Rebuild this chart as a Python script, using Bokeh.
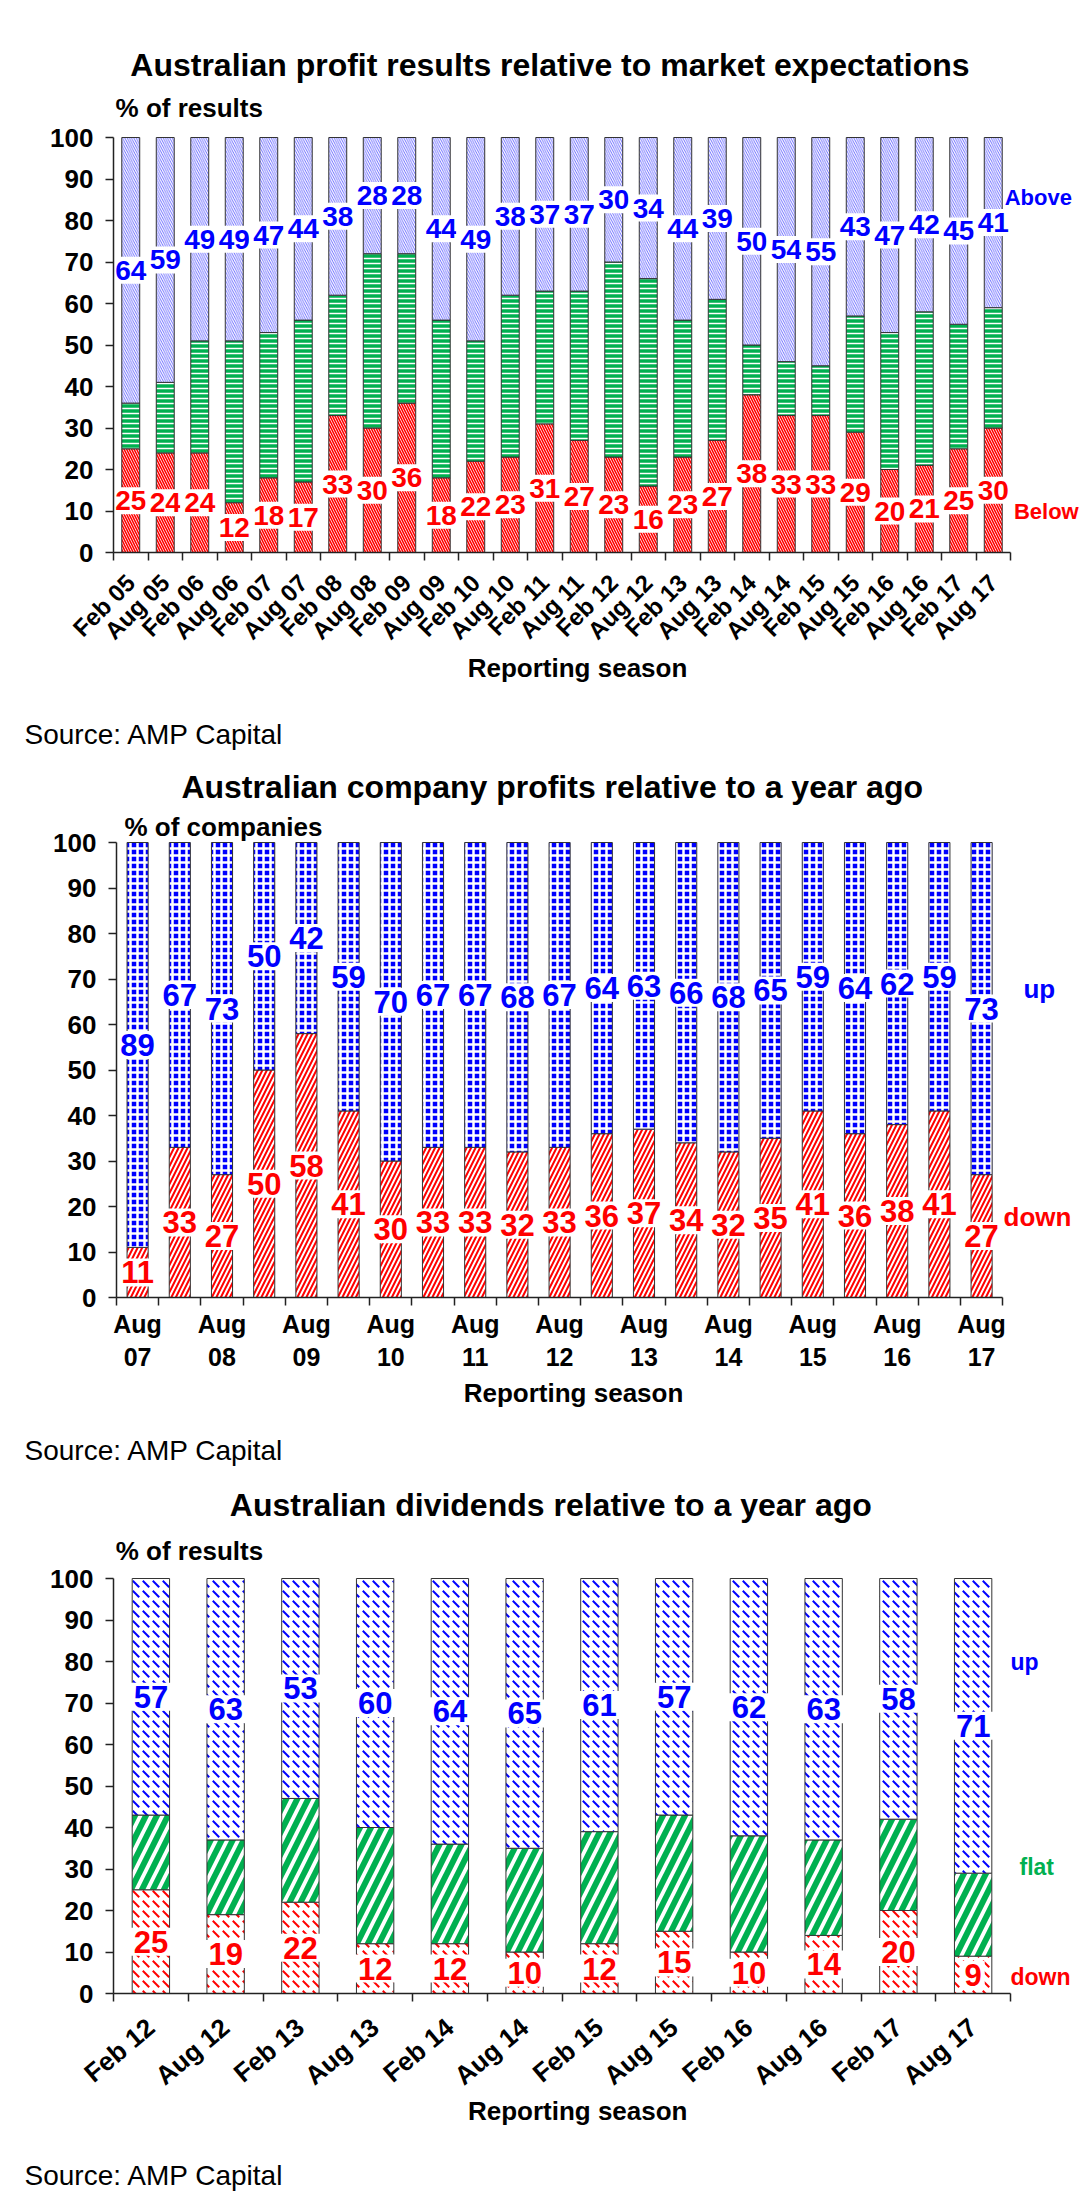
from bokeh.plotting import figure
from bokeh.models import (ColumnDataSource, Range1d, LinearAxis,
                          FixedTicker, Label)
from bokeh.layouts import column
from bokeh.core.properties import value
from bokeh.embed import file_html
from bokeh.resources import INLINE

FONT = "Liberation Sans"
BLUE = "#0000ff"
RED = "#ff0000"
GREEN = "#00b050"
AX = "#222222"

# ---------------- Chart 1 data: results relative to expectations ----------
c1_seasons = ["Feb 05", "Aug 05", "Feb 06", "Aug 06", "Feb 07", "Aug 07",
              "Feb 08", "Aug 08", "Feb 09", "Aug 09", "Feb 10", "Aug 10",
              "Feb 11", "Aug 11", "Feb 12", "Aug 12", "Feb 13", "Aug 13",
              "Feb 14", "Aug 14", "Feb 15", "Aug 15", "Feb 16", "Aug 16",
              "Feb 17", "Aug 17"]
c1_below = [25, 24, 24, 12, 18, 17, 33, 30, 36, 18, 22, 23, 31, 27, 23, 16,
            23, 27, 38, 33, 33, 29, 20, 21, 25, 30]
c1_inline = [11, 17, 27, 39, 35, 39, 29, 42, 36, 38, 29, 39, 32, 36, 47, 50,
             33, 34, 12, 13, 12, 28, 33, 37, 30, 29]
c1_above = [64, 59, 49, 49, 47, 44, 38, 28, 28, 44, 49, 38, 37, 37, 30, 34,
            44, 39, 50, 54, 55, 43, 47, 42, 45, 41]

# ---------------- Chart 2 data: company profits vs a year ago -------------
c2_seasons = ["Aug 07", "Feb 08", "Aug 08", "Feb 09", "Aug 09", "Feb 10",
              "Aug 10", "Feb 11", "Aug 11", "Feb 12", "Aug 12", "Feb 13",
              "Aug 13", "Feb 14", "Aug 14", "Feb 15", "Aug 15", "Feb 16",
              "Aug 16", "Feb 17", "Aug 17"]
c2_down = [11, 33, 27, 50, 58, 41, 30, 33, 33, 32, 33, 36, 37, 34, 32, 35,
           41, 36, 38, 41, 27]
c2_up = [89, 67, 73, 50, 42, 59, 70, 67, 67, 68, 67, 64, 63, 66, 68, 65,
         59, 64, 62, 59, 73]
c2_tick_labels = ["Aug\n07", "", "Aug\n08", "", "Aug\n09", "", "Aug\n10", "",
                  "Aug\n11", "", "Aug\n12", "", "Aug\n13", "", "Aug\n14", "",
                  "Aug\n15", "", "Aug\n16", "", "Aug\n17"]

# ---------------- Chart 3 data: dividends vs a year ago -------------------
c3_seasons = ["Feb 12", "Aug 12", "Feb 13", "Aug 13", "Feb 14", "Aug 14",
              "Feb 15", "Aug 15", "Feb 16", "Aug 16", "Feb 17", "Aug 17"]
c3_down = [25, 19, 22, 12, 12, 10, 12, 15, 10, 14, 20, 9]
c3_flat = [18, 18, 25, 28, 24, 25, 27, 28, 28, 23, 22, 20]
c3_up = [57, 63, 53, 60, 64, 65, 61, 57, 62, 63, 58, 71]

W = 1087


def slots(n):
    # centre of each season slot on a 0..n axis
    return [i + 0.5 for i in range(n)]


def base_fig(n, height, x0_px, xunit, y0_px, yunit, labels, size,
             angle=None, standoff=6):
    # frame covers the whole figure; axes are pinned at x=0 / y=0
    xr = Range1d(-x0_px / xunit, (W - x0_px) / xunit)
    yr = Range1d(-(height - y0_px) / yunit, y0_px / yunit)
    p = figure(width=W, height=height, x_range=xr, y_range=yr,
               x_axis_location=None, y_axis_location=None,
               toolbar_location=None, output_backend="svg", min_border=0)
    p.outline_line_color = None
    p.background_fill_color = "white"
    p.grid.visible = False
    ya = LinearAxis(fixed_location=0, bounds=(0, 100),
                    ticker=FixedTicker(ticks=list(range(0, 101, 10))),
                    major_label_text_font=FONT,
                    major_label_text_font_style="bold",
                    major_label_text_font_size="26px",
                    major_label_text_color="black",
                    major_tick_in=0, major_tick_out=8,
                    minor_tick_line_color=None, major_label_standoff=12,
                    axis_line_color=AX, axis_line_width=1.5,
                    major_tick_line_color=AX, major_tick_line_width=1.5)
    p.add_layout(ya, "left")
    centres = slots(n)
    ticks = [x for x, t in zip(centres, labels) if t]
    texts = [t for t in labels if t]
    kw = {}
    if angle is not None:
        kw["major_label_orientation"] = angle
    xa = LinearAxis(fixed_location=0, bounds=(0, n),
                    ticker=FixedTicker(ticks=ticks,
                                       minor_ticks=list(range(n + 1))),
                    major_label_overrides=dict(zip(ticks, texts)),
                    major_tick_line_color=None, major_tick_in=0,
                    major_tick_out=8, minor_tick_in=0, minor_tick_out=8,
                    minor_tick_line_color=AX, minor_tick_line_width=1.5,
                    axis_line_color=AX, axis_line_width=1.5,
                    major_label_text_font=FONT,
                    major_label_text_font_style="bold",
                    major_label_text_font_size=size,
                    major_label_text_color="black",
                    major_label_standoff=standoff, **kw)
    p.add_layout(xa, "below")
    return p


def add_label(p, x, y, text, size, color="black", style="bold", align="left"):
    p.add_layout(Label(x=x, y=y, text=text,
                       text_font=FONT, text_font_size=size,
                       text_font_style=style, text_color=color,
                       text_align=align, text_baseline="middle"))


def value_labels(p, src, ycol, tcol, color, size, pad):
    p.text(x="xpos", y=ycol, text=tcol, source=src,
           text_font=value(FONT), text_font_style="bold",
           text_font_size=size, text_color=color, text_align="center",
           text_baseline="middle", background_fill_color="white",
           padding=pad)


# ======================= Figure 1 =======================
n1 = len(c1_seasons)
p1 = base_fig(n1, 760, 113, 34.5, 552, 4.15, c1_seasons, "24px",
              angle=0.785, standoff=18)
src1 = ColumnDataSource(dict(
    xpos=slots(n1), below=c1_below, inline=c1_inline, above=c1_above,
    below_mid=[b / 2 for b in c1_below],
    above_mid=[100 - a / 2 for a in c1_above],
    below_txt=[str(b) for b in c1_below],
    above_txt=[str(a) for a in c1_above]))
p1.vbar_stack(["below", "inline", "above"], x="xpos", width=0.52,
              source=src1,
              fill_color=["white", GREEN, "white"],
              hatch_pattern=["\\", "-", "\\"],
              hatch_color=[RED, "white", "#4a4aff"],
              hatch_scale=[5, 5, 4.5], hatch_weight=[1.6, 1.5, 0.8],
              line_color="#333333", line_width=1)
value_labels(p1, src1, "above_mid", "above_txt", BLUE, "28px", 4)
value_labels(p1, src1, "below_mid", "below_txt", RED, "28px", 4)
add_label(p1, 12.78, 117.35,
          "Australian  profit results relative to market expectations",
          "32px", align="center")
add_label(p1, 0.06, 106.99, "% of results", "26px")
add_label(p1, 25.83, 85.5, "Above", "22px", BLUE)
add_label(p1, 26.1, 9.9, "Below", "22px", RED)
add_label(p1, 13.45, -27.95, "Reporting season", "26px", align="center")
add_label(p1, -2.58, -43.86, "Source: AMP Capital", "28px", style="normal")

# ======================= Figure 2 =======================
n2 = len(c2_seasons)
p2 = base_fig(n2, 718, 116, 42.2, 537, 4.55, c2_tick_labels, "25px",
              standoff=4)
src2 = ColumnDataSource(dict(
    xpos=slots(n2), down=c2_down, up=c2_up,
    down_mid=[d / 2 for d in c2_down],
    up_mid=[100 - u / 2 for u in c2_up],
    down_txt=[str(d) for d in c2_down],
    up_txt=[str(u) for u in c2_up]))
p2.vbar_stack(["down", "up"], x="xpos", width=0.5, source=src2,
              fill_color=["white", BLUE],
              hatch_pattern=["/", "+"],
              hatch_color=[RED, "white"],
              hatch_scale=[9, 7], hatch_weight=[2, 2.5],
              line_color="#333333", line_width=1)
value_labels(p2, src2, "up_mid", "up_txt", BLUE, "31px", 3)
value_labels(p2, src2, "down_mid", "down_txt", RED, "31px", 3)
add_label(p2, 10.43, 112.3, "Australian  company profits relative to a year ago",
          "32px", align="center")
add_label(p2, 0.19, 103.5, "% of companies", "26px")
add_label(p2, 21.49, 67.9, "up", "26px", BLUE)
add_label(p2, 21.02, 17.6, "down", "26px", RED)
add_label(p2, 10.83, -20.9, "Reporting season", "26px", align="center")
add_label(p2, -2.18, -33.6, "Source: AMP Capital", "28px", style="normal")

# ======================= Figure 3 =======================
n3 = len(c3_seasons)
p3 = base_fig(n3, 725, 113, 74.75, 515, 4.15, c3_seasons, "26px",
              angle=0.7, standoff=22)
src3 = ColumnDataSource(dict(
    xpos=slots(n3), down=c3_down, flat=c3_flat, up=c3_up,
    down_mid=[d / 2 for d in c3_down],
    up_mid=[100 - u / 2 for u in c3_up],
    down_txt=[str(d) for d in c3_down],
    up_txt=[str(u) for u in c3_up]))
p3.vbar_stack(["down", "flat", "up"], x="xpos", width=0.5, source=src3,
              fill_color=["white", "white", "white"],
              hatch_pattern=["left_diagonal_dash", "/", "left_diagonal_dash"],
              hatch_color=[RED, GREEN, BLUE],
              hatch_scale=[10, 22, 10], hatch_weight=[2, 6, 2],
              line_color="#333333", line_width=1)
value_labels(p3, src3, "up_mid", "up_txt", BLUE, "31px", 3)
value_labels(p3, src3, "down_mid", "down_txt", RED, "31px", 3)
add_label(p3, 5.91, 117.8, "Australian  dividends relative to a year ago",
          "32px", align="center")
add_label(p3, 0.03, 106.7, "% of results", "26px")
add_label(p3, 12.0, 79.8, "up", "23px", BLUE)
add_label(p3, 12.12, 30.6, "flat", "23px", GREEN)
add_label(p3, 12.0, 3.9, "down", "23px", RED)
add_label(p3, 6.21, -28.4, "Reporting season", "26px", align="center")
add_label(p3, -1.19, -43.9, "Source: AMP Capital", "28px", style="normal")

page = column(p1, p2, p3, spacing=0)
open("out.html", "w").write(file_html(page, INLINE))
